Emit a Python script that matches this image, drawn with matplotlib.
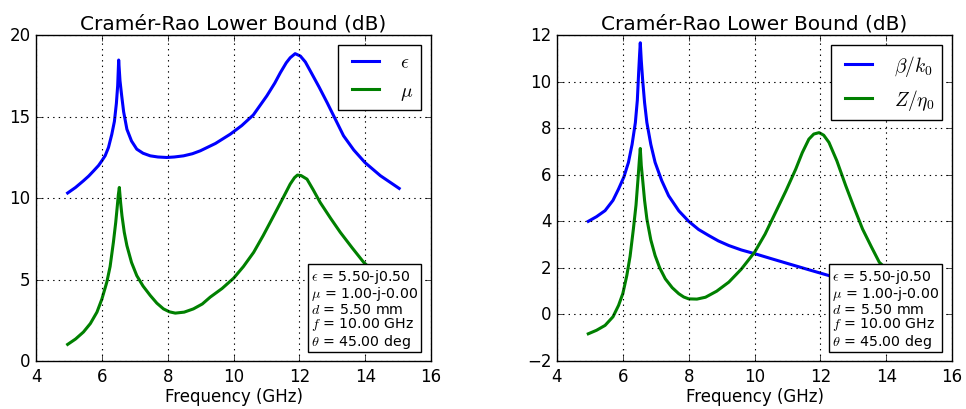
import numpy as np
import matplotlib
matplotlib.use("Agg")
import matplotlib.pyplot as plt

# values (frequency in GHz, bound in dB)
eps_f = [4.96, 5.2, 5.44, 5.6, 5.75, 5.9, 6.0, 6.1, 6.2, 6.3, 6.38, 6.44, 6.48, 6.51,
         6.55, 6.6, 6.66, 6.76, 6.9, 7.06, 7.25, 7.47, 7.7, 7.97, 8.2, 8.48, 8.75,
         8.99, 9.45, 9.9, 10.25, 10.6, 11.01, 11.25, 11.42, 11.6, 11.72, 11.87, 12.03,
         12.18, 12.33, 12.6, 12.84, 13.1, 13.34, 13.65, 13.99, 14.46, 15.03]
eps_db = [10.31, 10.65, 11.06, 11.35, 11.67, 12.0, 12.29, 12.6, 13.1, 13.9, 14.7, 15.8,
          16.9, 18.47, 17.2, 16.3, 15.3, 14.22, 13.5, 13.0, 12.75, 12.59, 12.52, 12.49,
          12.52, 12.59, 12.72, 12.9, 13.35, 13.92, 14.45, 15.1, 16.27, 17.05, 17.69,
          18.3, 18.61, 18.86, 18.71, 18.35, 17.8, 16.8, 15.86, 14.8, 13.82, 12.95,
          12.18, 11.37, 10.59]

mu_f = [4.96, 5.2, 5.44, 5.65, 5.85, 6.0, 6.15, 6.25, 6.35, 6.42, 6.46, 6.5, 6.53, 6.57,
        6.61, 6.68, 6.76, 6.9, 7.06, 7.25, 7.47, 7.67, 7.87, 8.05, 8.23, 8.5, 8.78,
        9.05, 9.29, 9.65, 10.0, 10.3, 10.61, 10.9, 11.22, 11.5, 11.72, 11.85, 11.94,
        12.05, 12.23, 12.42, 12.63, 12.95, 13.24, 13.6, 13.95, 14.5, 15.0]
mu_db = [1.02, 1.35, 1.78, 2.3, 3.0, 3.8, 4.84, 5.8, 7.29, 8.5, 9.33, 10.2, 10.65, 9.7,
         8.92, 7.9, 7.08, 6.05, 5.24, 4.6, 4.02, 3.55, 3.2, 3.02, 2.94, 3.0, 3.2, 3.5,
         3.92, 4.45, 5.08, 5.8, 6.67, 7.7, 8.92, 10.0, 10.86, 11.25, 11.41, 11.38,
         11.16, 10.5, 9.73, 8.75, 7.9, 6.95, 6.06, 5.0, 4.2]

beta_f = [4.95, 5.2, 5.46, 5.7, 5.87, 6.03, 6.17, 6.28, 6.38, 6.44, 6.48, 6.51, 6.53,
          6.56, 6.6, 6.66, 6.73, 6.85, 6.98, 7.18, 7.39, 7.7, 8.0, 8.3, 8.61, 8.9,
          9.22, 9.6, 10.03, 10.5, 11.05, 11.65, 12.26, 13.5, 15.0]
beta_db = [4.0, 4.2, 4.46, 4.9, 5.39, 5.9, 6.53, 7.3, 8.24, 9.2, 10.39, 11.2, 11.67,
           10.9, 10.1, 9.1, 8.24, 7.3, 6.53, 5.75, 5.1, 4.45, 4.0, 3.65, 3.39, 3.16,
           2.96, 2.77, 2.6, 2.4, 2.17, 1.92, 1.67, 1.3, 1.0]

z_f = [4.95, 5.2, 5.46, 5.7, 5.87, 6.0, 6.12, 6.22, 6.32, 6.4, 6.46, 6.5, 6.53, 6.56,
       6.6, 6.66, 6.73, 6.85, 6.98, 7.12, 7.29, 7.5, 7.7, 7.85, 8.0, 8.25, 8.51, 8.85,
       9.22, 9.6, 10.0, 10.32, 10.64, 10.95, 11.25, 11.45, 11.65, 11.8, 11.96, 12.1,
       12.26, 12.5, 12.77, 13.02, 13.28, 13.55, 13.79, 14.5, 15.0]
z_db = [-0.83, -0.68, -0.47, -0.1, 0.39, 0.9, 1.67, 2.5, 3.67, 4.7, 5.81, 6.6, 7.13,
        6.4, 5.81, 4.9, 4.1, 3.2, 2.53, 2.0, 1.53, 1.15, 0.89, 0.75, 0.67, 0.66, 0.74,
        1.0, 1.39, 1.95, 2.67, 3.45, 4.39, 5.3, 6.24, 6.95, 7.53, 7.75, 7.81, 7.7,
        7.39, 6.6, 5.53, 4.6, 3.67, 2.9, 2.24, 1.3, 0.8]

info = ("$\\epsilon$ = 5.50-j0.50\n"
        "$\\mu$ = 1.00-j-0.00\n"
        "$d$ = 5.50 mm\n"
        "$f$ = 10.00 GHz\n"
        "$\\theta$ = 45.00 deg")

plt.style.use('classic')
fig = plt.figure(figsize=(9.66, 4.1), dpi=100, facecolor='white')
ax1 = fig.add_axes([0.0373, 0.117, 0.409, 0.795])
ax2 = fig.add_axes([0.5766, 0.117, 0.409, 0.795])

ax1.plot(eps_f, eps_db, 'b', lw=2.2, label='$\\epsilon$')
ax1.plot(mu_f, mu_db, 'g', lw=2.2, label='$\\mu$')
ax1.set_xlim(4, 16)
ax1.set_ylim(0, 20)
ax1.set_yticks([0, 5, 10, 15, 20])

ax2.plot(beta_f, beta_db, 'b', lw=2.2, label='$\\beta/k_0$')
ax2.plot(z_f, z_db, 'g', lw=2.2, label='$Z/\\eta_0$')
ax2.set_xlim(4, 16)
ax2.set_ylim(-2, 12)

for ax in (ax1, ax2):
    ax.set_title('Cramér-Rao Lower Bound (dB)', fontsize=14.5)
    ax.set_xlabel('Frequency (GHz)', fontsize=12, labelpad=2)
    ax.grid(True, color='k', linestyle=':', linewidth=0.8)
    ax.legend(loc='upper right', fontsize=14)
    ax.text(0.967, 0.035, info, transform=ax.transAxes, ha='right', va='bottom',
            fontsize=10.2, linespacing=0.95, multialignment='left', zorder=5,
            bbox=dict(boxstyle='square,pad=0.2', facecolor='white', edgecolor='k'))

fig.savefig('out.png', dpi=100, facecolor='white')
